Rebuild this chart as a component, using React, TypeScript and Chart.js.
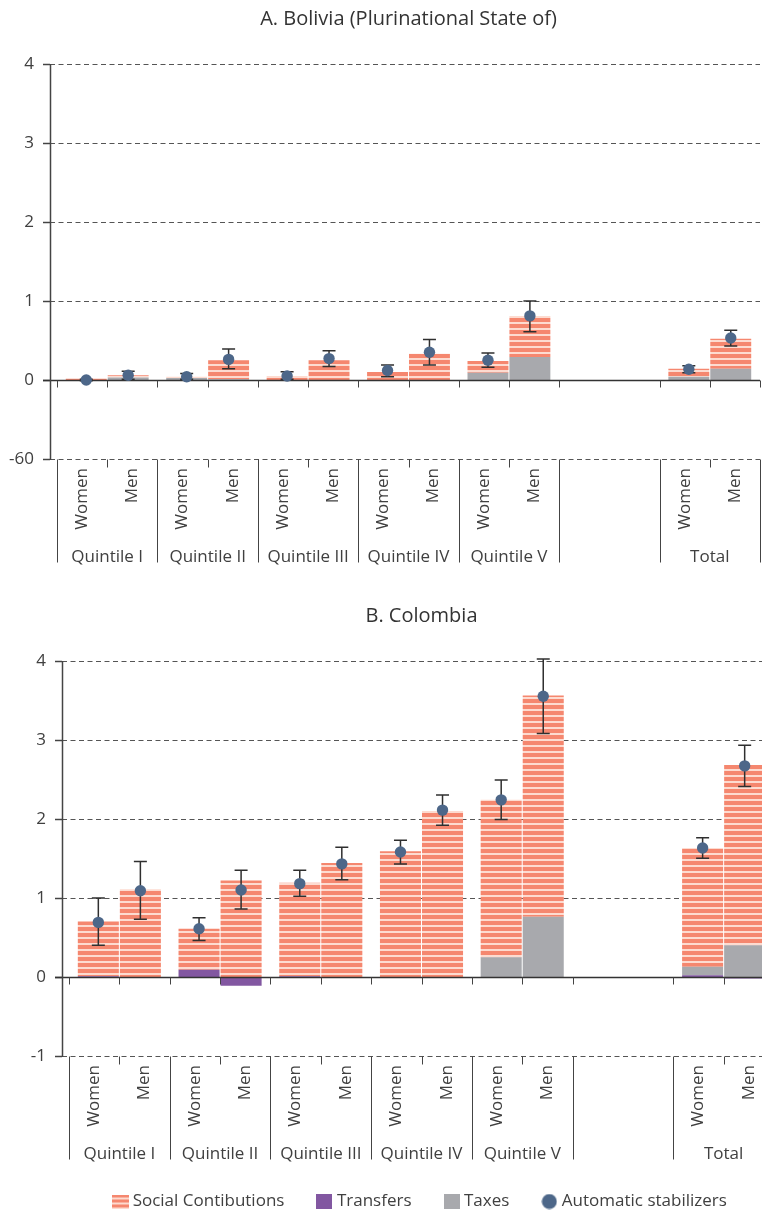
import React, { useEffect, useRef } from 'react';
import { Chart, registerables } from 'chart.js';

Chart.register(...registerables);

const FONT = '"Open Sans", "Noto Sans", sans-serif';
const TEXT = '#404040';

// ---- categories / tick labels ----
const SUB_LABELS = ['Women', 'Men', 'Women', 'Men', 'Women', 'Men', 'Women', 'Men', 'Women', 'Men', '', '', 'Women', 'Men'];
const GROUP_LABELS = ['Quintile I', 'Quintile II', 'Quintile III', 'Quintile IV', 'Quintile V', '', 'Total'];
const Y_TICKS = [-1, 0, 1, 2, 3, 4];
const BOL_Y_TICK_LABELS = ['-60', '0', '1', '2', '3', '4'];
const COL_Y_TICK_LABELS = ['-1', '0', '1', '2', '3', '4'];
const LEGEND_LABELS = ['Social Contibutions', 'Transfers', 'Taxes', 'Automatic stabilizers'];

// ---- Bolivia (order: Q1, Q2, Q3, Q4, Q5, Total) ----
const BOL_WOMEN_SOCIAL = [0.015, 0.015, 0.05, 0.10, 0.15, 0.10];
const BOL_WOMEN_TAXES = [0, 0.025, 0, 0, 0.09, 0.04];
const BOL_WOMEN_TRANSFERS = [0, 0, 0, 0, 0, 0];
const BOL_WOMEN_STAB = [0.0, 0.04, 0.05, 0.12, 0.25, 0.135];
const BOL_WOMEN_LOW = [-0.01, 0.01, 0.01, 0.04, 0.16, 0.09];
const BOL_WOMEN_HIGH = [0.01, 0.08, 0.105, 0.19, 0.34, 0.18];
const BOL_MEN_SOCIAL = [0.03, 0.24, 0.25, 0.33, 0.52, 0.38];
const BOL_MEN_TAXES = [0.03, 0.01, -0.01, 0, 0.29, 0.14];
const BOL_MEN_TRANSFERS = [0, 0, 0, 0, 0, 0];
const BOL_MEN_STAB = [0.06, 0.26, 0.27, 0.35, 0.81, 0.53];
const BOL_MEN_LOW = [0.01, 0.14, 0.17, 0.19, 0.61, 0.43];
const BOL_MEN_HIGH = [0.11, 0.39, 0.37, 0.51, 1.0, 0.63];

// ---- Colombia ----
const COL_WOMEN_SOCIAL = [0.69, 0.52, 1.18, 1.59, 1.99, 1.50];
const COL_WOMEN_TAXES = [0, 0, 0, 0, 0.25, 0.11];
const COL_WOMEN_TRANSFERS = [0.01, 0.09, 0.01, 0, 0, 0.02];
const COL_WOMEN_STAB = [0.69, 0.61, 1.18, 1.58, 2.24, 1.63];
const COL_WOMEN_LOW = [0.40, 0.46, 1.02, 1.43, 1.99, 1.50];
const COL_WOMEN_HIGH = [1.00, 0.75, 1.35, 1.73, 2.49, 1.76];
const COL_MEN_SOCIAL = [1.11, 1.22, 1.44, 2.10, 2.80, 2.28];
const COL_MEN_TAXES = [0, 0, 0, -0.01, 0.76, 0.40];
const COL_MEN_TRANSFERS = [-0.01, -0.11, -0.01, 0, 0, -0.02];
const COL_MEN_STAB = [1.09, 1.10, 1.43, 2.11, 3.55, 2.67];
const COL_MEN_LOW = [0.73, 0.86, 1.23, 1.92, 3.08, 2.41];
const COL_MEN_HIGH = [1.46, 1.35, 1.64, 2.30, 4.02, 2.93];

// ---- colours ----
const SALMON = '#F5876F';
const PINK = '#FDDBD0';
const PURPLE = '#8257A1';
const GREY = '#A8A9AD';
const DOT = '#4D6789';
const ERR = '#2f2f2f';

// insert the empty group between Quintile V and Total
const toGroups = (a: number[]) => [...a.slice(0, 5), null, a[5]];

function stripePattern(ctx: CanvasRenderingContext2D) {
  const c = document.createElement('canvas');
  c.width = 4;
  c.height = 6;
  const g = c.getContext('2d')!;
  g.fillStyle = SALMON;
  g.fillRect(0, 0, 4, 4);
  g.fillStyle = PINK;
  g.fillRect(0, 4, 4, 2);
  return ctx.createPattern(c, 'repeat')!;
}

function legendImages() {
  const mk = (w: number, h: number, draw: (g: CanvasRenderingContext2D) => void) => {
    const c = document.createElement('canvas');
    c.width = w;
    c.height = h;
    draw(c.getContext('2d')!);
    return c;
  };
  const stripes = mk(17, 14, (g) => {
    g.fillStyle = PINK;
    g.fillRect(0, 0, 17, 14);
    g.fillStyle = SALMON;
    g.fillRect(0, 0, 17, 3);
    g.fillRect(0, 5, 17, 3);
    g.fillRect(0, 10, 17, 3);
  });
  const purple = mk(16, 15, (g) => {
    g.fillStyle = PURPLE;
    g.fillRect(0, 0, 16, 15);
  });
  const grey = mk(16, 15, (g) => {
    g.fillStyle = GREY;
    g.fillRect(0, 0, 16, 15);
  });
  const dot = mk(16, 16, (g) => {
    g.fillStyle = DOT;
    g.beginPath();
    g.arc(8, 8, 7.5, 0, Math.PI * 2);
    g.fill();
  });
  return [stripes, purple, grey, dot];
}

const decorPlugin = {
  id: 'decor',
  afterLayout(chart: any, _args: any, opts: any) {
    const lg = chart.legend;
    if (lg && opts.legendShift) {
      lg.top -= opts.legendShift;
      lg.bottom -= opts.legendShift;
    }
  },
  beforeDatasetsDraw(chart: any) {
    const { ctx, chartArea: a, scales } = chart;
    const y = scales.y;
    const axisX = a.left - 7;
    ctx.save();
    ctx.strokeStyle = '#555';
    ctx.lineWidth = 1;
    ctx.setLineDash([5, 3.5]);
    Y_TICKS.forEach((v) => {
      if (v === 0) return;
      const py = Math.round(y.getPixelForValue(v)) + 0.5;
      ctx.beginPath();
      ctx.moveTo(axisX, py);
      ctx.lineTo(a.right, py);
      ctx.stroke();
    });
    ctx.restore();
  },
  afterDatasetsDraw(chart: any, _args: any, opts: any) {
    const { ctx, chartArea: a, scales } = chart;
    const y = scales.y;
    const xs = scales.xSub;
    const axisX = a.left - 7;
    const n = SUB_LABELS.length;
    const slot = (xs.right - xs.left) / n;
    const bx = (k: number) => Math.round(xs.left + k * slot) + 0.5;
    const blankBoundary = (k: number) => k > 0 && k < n && SUB_LABELS[k - 1] === '' && SUB_LABELS[k] === '';
    ctx.save();

    // y tick marks
    ctx.strokeStyle = '#444';
    ctx.lineWidth = 1.5;
    Y_TICKS.forEach((v) => {
      const py = Math.round(y.getPixelForValue(v)) + 0.5;
      ctx.beginPath();
      ctx.moveTo(axisX - 7, py);
      ctx.lineTo(axisX, py);
      ctx.stroke();
    });

    // zero line with ticks
    const y0 = Math.round(y.getPixelForValue(0)) + 0.5;
    ctx.strokeStyle = '#333';
    ctx.lineWidth = 1.5;
    ctx.beginPath();
    ctx.moveTo(axisX - 7, y0);
    ctx.lineTo(a.right, y0);
    ctx.stroke();
    ctx.lineWidth = 1;
    ctx.strokeStyle = '#444';
    for (let k = 0; k <= n; k++) {
      if (blankBoundary(k)) continue;
      ctx.beginPath();
      ctx.moveTo(bx(k), y0);
      ctx.lineTo(bx(k), y0 + 7);
      ctx.stroke();
    }

    // y axis line
    ctx.strokeStyle = '#444';
    ctx.lineWidth = 1.5;
    ctx.beginPath();
    ctx.moveTo(axisX + 0.5, Math.round(y.getPixelForValue(4)));
    ctx.lineTo(axisX + 0.5, Math.round(y.getPixelForValue(-1)) + 1);
    ctx.stroke();

    // bottom separators
    const yb = Math.round(y.getPixelForValue(-1)) + 0.5;
    ctx.lineWidth = 1;
    ctx.strokeStyle = '#444';
    for (let k = 0; k <= n; k++) {
      if (blankBoundary(k)) continue;
      const long = k % 2 === 0;
      ctx.beginPath();
      ctx.moveTo(bx(k), yb);
      ctx.lineTo(bx(k), yb + (long ? 103 : 8));
      ctx.stroke();
    }

    // error bars & dots
    const series = [
      { meta: chart.getDatasetMeta(2), stab: opts.womenStab, low: opts.womenLow, high: opts.womenHigh },
      { meta: chart.getDatasetMeta(5), stab: opts.menStab, low: opts.menLow, high: opts.menHigh },
    ];
    series.forEach((s) => {
      s.stab.forEach((v: number | null, i: number) => {
        if (v === null || v === undefined) return;
        const el = s.meta.data[i];
        if (!el) return;
        const x = el.x;
        const pl = y.getPixelForValue(s.low[i]);
        const ph = y.getPixelForValue(s.high[i]);
        ctx.strokeStyle = ERR;
        ctx.lineWidth = 1.5;
        ctx.beginPath();
        ctx.moveTo(x, pl);
        ctx.lineTo(x, ph);
        ctx.moveTo(x - 6.5, pl);
        ctx.lineTo(x + 6.5, pl);
        ctx.moveTo(x - 6.5, ph);
        ctx.lineTo(x + 6.5, ph);
        ctx.stroke();
        ctx.fillStyle = DOT;
        ctx.beginPath();
        ctx.arc(x, y.getPixelForValue(v), 5.7, 0, Math.PI * 2);
        ctx.fill();
      });
    });
    ctx.restore();
  },
};

type Series = { social: number[]; taxes: number[]; transfers: number[]; stab: number[]; low: number[]; high: number[] };
type Panel = {
  title: string;
  yLabels: string[];
  w: Series;
  m: Series;
  left: number;
  right: number;
  width: number;
  height: number;
  padBottom: number;
  legend: boolean;
  legendShift: number;
};

function makeChart(canvas: HTMLCanvasElement, p: Panel) {
  const ctx = canvas.getContext('2d')!;
  const pattern = stripePattern(ctx);
  const font = { family: FONT, size: 17 };
  const bar = (label: string, data: number[], stack: string, color: any) => ({
    type: 'bar' as const,
    label,
    data: toGroups(data),
    stack,
    backgroundColor: color,
    borderWidth: 0,
    categoryPercentage: 0.835,
    barPercentage: 0.976,
    xAxisID: 'x',
    yAxisID: 'y',
  });
  const imgs = legendImages();
  return new Chart(ctx, {
    type: 'bar',
    data: {
      labels: GROUP_LABELS,
      datasets: [
        bar('Transfers', p.w.transfers, 'W', PURPLE),
        bar('Taxes', p.w.taxes, 'W', GREY),
        bar('Social Contibutions', p.w.social, 'W', pattern),
        bar('Transfers', p.m.transfers, 'M', PURPLE),
        bar('Taxes', p.m.taxes, 'M', GREY),
        bar('Social Contibutions', p.m.social, 'M', pattern),
      ],
    },
    plugins: [decorPlugin],
    options: {
      animation: false,
      responsive: false,
      devicePixelRatio: 1,
      events: [],
      layout: { padding: { left: 0, right: p.width - p.right, top: 0, bottom: p.padBottom } },
      plugins: {
        title: {
          display: true,
          text: p.title,
          fullSize: false,
          color: '#333',
          font: { family: FONT, size: 20, weight: 'normal' },
          padding: { top: 7.5, bottom: 32.2 },
        },
        legend: p.legend
          ? {
              display: true,
              position: 'bottom',
              fullSize: false,
              labels: {
                usePointStyle: true,
                pointStyleWidth: 8,
                padding: 36,
                color: TEXT,
                font,
                generateLabels: () =>
                  LEGEND_LABELS.map((text, i) => ({
                    text,
                    pointStyle: imgs[i],
                    fillStyle: 'transparent',
                    strokeStyle: 'transparent',
                    lineWidth: 0,
                    hidden: false,
                    datasetIndex: i,
                    fontColor: TEXT,
                  })),
              },
            }
          : { display: false },
        tooltip: { enabled: false },
        decor: {
          legendShift: p.legendShift,
          womenStab: toGroups(p.w.stab),
          womenLow: toGroups(p.w.low),
          womenHigh: toGroups(p.w.high),
          menStab: toGroups(p.m.stab),
          menLow: toGroups(p.m.low),
          menHigh: toGroups(p.m.high),
        },
      } as any,
      scales: {
        x: {
          type: 'category',
          position: 'bottom',
          stacked: true,
          weight: 1,
          labels: GROUP_LABELS,
          grid: { display: false, drawTicks: false },
          border: { display: false },
          ticks: { autoSkip: false, maxRotation: 0, minRotation: 0, padding: 12, color: TEXT, font },
          afterFit: (s: any) => {
            s.height = 34;
          },
        },
        xSub: {
          type: 'category',
          position: 'bottom',
          weight: 0,
          offset: true,
          labels: SUB_LABELS,
          grid: { display: false, drawTicks: false },
          border: { display: false },
          ticks: { autoSkip: false, maxRotation: 90, minRotation: 90, padding: 9, color: TEXT, font },
          afterFit: (s: any) => {
            s.height = 76;
          },
        },
        y: {
          type: 'linear',
          stacked: true,
          min: -1,
          max: 4,
          afterBuildTicks: (s: any) => {
            s.ticks = Y_TICKS.map((v) => ({ value: v }));
          },
          grid: { display: false, drawTicks: false },
          border: { display: false },
          ticks: {
            padding: 23,
            color: TEXT,
            font,
            callback: (v: any) => p.yLabels[Y_TICKS.indexOf(Number(v))],
          },
          afterFit: (s: any) => {
            s.width = p.left;
          },
        },
      } as any,
    },
  } as any);
}

const BOLIVIA: Panel = {
  title: 'A. Bolivia (Plurinational State of)',
  yLabels: BOL_Y_TICK_LABELS,
  w: { social: BOL_WOMEN_SOCIAL, taxes: BOL_WOMEN_TAXES, transfers: BOL_WOMEN_TRANSFERS, stab: BOL_WOMEN_STAB, low: BOL_WOMEN_LOW, high: BOL_WOMEN_HIGH },
  m: { social: BOL_MEN_SOCIAL, taxes: BOL_MEN_TAXES, transfers: BOL_MEN_TRANSFERS, stab: BOL_MEN_STAB, low: BOL_MEN_LOW, high: BOL_MEN_HIGH },
  left: 57,
  right: 760,
  width: 780,
  height: 597,
  padBottom: 28,
  legend: false,
  legendShift: 0,
};

const COLOMBIA: Panel = {
  title: 'B. Colombia',
  yLabels: COL_Y_TICK_LABELS,
  w: { social: COL_WOMEN_SOCIAL, taxes: COL_WOMEN_TAXES, transfers: COL_WOMEN_TRANSFERS, stab: COL_WOMEN_STAB, low: COL_WOMEN_LOW, high: COL_WOMEN_HIGH },
  m: { social: COL_MEN_SOCIAL, taxes: COL_MEN_TAXES, transfers: COL_MEN_TRANSFERS, stab: COL_MEN_STAB, low: COL_MEN_LOW, high: COL_MEN_HIGH },
  left: 69,
  right: 774,
  width: 795,
  height: 632,
  padBottom: 0,
  legend: true,
  legendShift: 9,
};

function ChartPanel({ panel, top }: { panel: Panel; top: number }) {
  const ref = useRef<HTMLCanvasElement>(null);
  useEffect(() => {
    const chart = makeChart(ref.current!, panel);
    return () => chart.destroy();
  }, [panel]);
  return (
    <div style={{ position: 'absolute', left: 0, top }}>
      <canvas ref={ref} width={panel.width} height={panel.height} style={{ display: 'block', width: panel.width, height: panel.height }} />
    </div>
  );
}

export default function App() {
  return (
    <div style={{ position: 'absolute', left: 0, top: 0, width: 762, height: 1212, overflow: 'hidden', background: '#fff' }}>
      <ChartPanel panel={BOLIVIA} top={0} />
      <ChartPanel panel={COLOMBIA} top={597} />
    </div>
  );
}
